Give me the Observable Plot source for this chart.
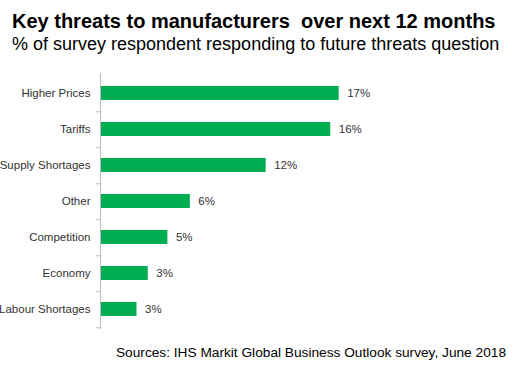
<!DOCTYPE html>
<html>
<head>
<meta charset="utf-8">
<script src="https://cdn.jsdelivr.net/npm/d3@7"></script>
<script src="https://cdn.jsdelivr.net/npm/@observablehq/plot@0.6"></script>
<style>
  html, body { margin: 0; padding: 0; background: #fff; }
  body { width: 522px; height: 368px; position: relative; overflow: hidden; font-family: "Liberation Sans", Arial, sans-serif; }
  #title { position: absolute; left: 12px; top: 10px; font-size: 20px; line-height: 23px; font-weight: bold; color: #000; white-space: nowrap; }
  #subtitle { position: absolute; left: 12px; top: 33.5px; font-size: 18px; line-height: 21px; color: #000; white-space: nowrap; }
  #chart { position: absolute; left: 0; top: 60px; }
  #source { position: absolute; right: 16px; top: 344.5px; font-size: 13.7px; line-height: 16px; color: #000; white-space: nowrap; }
</style>
</head>
<body>
<div id="title">Key threats to manufacturers&nbsp; over next 12 months</div>
<div id="subtitle">% of survey respondent responding to future threats question</div>
<div id="chart"></div>
<div id="source">Sources: IHS Markit Global Business Outlook survey, June 2018</div>
<script>
const categories = ["Higher Prices", "Tariffs", "Supply Shortages", "Other", "Competition", "Economy", "Labour Shortages"];
const values = [17.0, 16.4, 11.8, 6.4, 4.8, 3.4, 2.6];

const data = categories.map((c, i) => ({category: c, value: values[i]}));

const W = 522, H = 280, MT = 13, MB = 11;
const step = (H - MT - MB) / categories.length;

const chart = Plot.plot({
  width: W,
  height: H,
  marginTop: MT,
  marginBottom: MB,
  marginLeft: 100,
  marginRight: 71,
  style: {fontFamily: "Liberation Sans, Arial, sans-serif", fontSize: "11.5px", color: "#333", background: "#fff"},
  x: {domain: [0, 25], axis: null},
  y: {domain: categories, paddingInner: 0.62, paddingOuter: 0.31, label: null},
  marks: [
    Plot.barX(data, {y: "category", x: "value", fill: "#00AD50"}),
    Plot.ruleX([0], {stroke: "#bbb", strokeWidth: 1}),
    Plot.ruleY(categories, {y: d => d, x1: -0.3, x2: 0, dy: step / 2, stroke: "#bbb"}),
    Plot.axisY({tickSize: 0, tickPadding: 10, fontSize: 11.5, fill: "#333"}),
    Plot.text(data, {y: "category", x: "value", text: d => Math.round(d.value) + "%", dx: 8, textAnchor: "start", fontSize: 11.5, fill: "#333"})
  ]
});
document.getElementById("chart").appendChild(chart);
</script>
</body>
</html>
